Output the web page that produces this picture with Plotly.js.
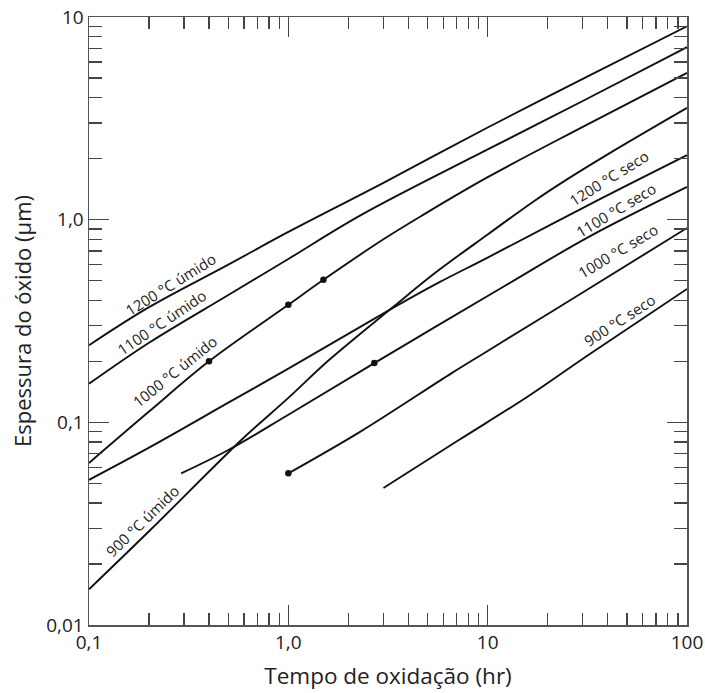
<!DOCTYPE html>
<html>
<head>
<meta charset="utf-8">
<script src="https://cdn.plot.ly/plotly-3.0.1.min.js"></script>
<style>html,body{margin:0;padding:0;background:#fff;}#chart{width:705px;height:693px;}</style>
</head>
<body>
<div id="chart"></div>
<script>
// Oxidation time (hr) and oxide thickness (µm)
const wet1200_t = [0.1, 0.2, 0.5, 1, 3, 10, 30, 100];
const wet1200_x = [0.24, 0.37, 0.60, 0.87, 1.52, 2.85, 4.95, 9.0];
const wet1100_t = [0.1, 0.2, 0.5, 1, 2.3, 10, 30, 100];
const wet1100_x = [0.155, 0.247, 0.425, 0.64, 1.05, 2.22, 3.85, 7.1];
const wet1000_t = [0.1, 0.2, 0.4, 1, 1.5, 3, 4.7, 10, 30, 100];
const wet1000_x = [0.063, 0.113, 0.2, 0.38, 0.505, 0.80, 1.05, 1.62, 2.87, 5.3];
const wet900_t = [0.1, 0.2, 0.59, 1, 1.6, 3.4, 5.5, 10, 17, 25, 40, 100];
const wet900_x = [0.015, 0.029, 0.083, 0.132, 0.203, 0.375, 0.55, 0.845, 1.23, 1.58, 2.1, 3.56];
const dry1200_t = [0.1, 0.2, 0.5, 1.0, 3.4, 5.7, 10, 32, 100];
const dry1200_x = [0.052, 0.075, 0.125, 0.184, 0.37, 0.49, 0.65, 1.18, 2.08];
const dry1100_t = [0.29, 0.5, 1, 2.7, 12.4, 32, 100];
const dry1100_x = [0.056, 0.073, 0.109, 0.196, 0.476, 0.82, 1.45];
const dry1000_t = [1, 2.3, 6.6, 10, 32, 100];
const dry1000_x = [0.056, 0.09, 0.175, 0.225, 0.455, 0.91];
const dry900_t = [3.0, 7.2, 15.7, 32, 100];
const dry900_x = [0.0474, 0.082, 0.133, 0.215, 0.455];

// Marked data points
const dot_t = [0.4, 1, 1.5, 2.7, 1];
const dot_x = [0.2, 0.38, 0.505, 0.196, 0.056];

// Curve labels
const labelText = ['1200 °C úmido', '1100 °C úmido', '1000 °C úmido', '900 °C úmido',
                   '1200 °C seco', '1100 °C seco', '1000 °C seco', '900 °C seco'];

// Axis ticks
const xTickVals = [0.1, 1, 10, 100];
const xTickText = ['0,1', '1,0', '10', '100'];
const yTickVals = [0.01, 0.1, 1, 10];
const yTickText = ['0,01', '0,1', '1,0', '10'];
const xMinorVals = [0.2,0.3,0.4,0.5,0.6,0.7,0.8,0.9,2,3,4,5,6,7,8,9,20,30,40,50,60,70,80,90];
const yMinorVals = [0.02,0.03,0.04,0.05,0.06,0.07,0.08,0.09,0.2,0.3,0.4,0.5,0.6,0.7,0.8,0.9,2,3,4,5,6,7,8,9];

// Label placement (log10 coordinates) and angle
const labelPos = [[-0.589,-0.317,-32],[-0.634,-0.505,-34],[-0.569,-0.746,-39],[-0.734,-1.486,-44],
                  [1.607,0.206,-32],[1.642,0.048,-31],[1.652,-0.154,-31],[1.662,-0.495,-33]];

const lineStyle = {color: '#111', width: 1.9, shape: 'spline', smoothing: 1.0};
function curve(t, x) {
  return {x: t, y: x, type: 'scatter', mode: 'lines', line: lineStyle, hoverinfo: 'skip', showlegend: false};
}
const traces = [
  curve(wet1200_t, wet1200_x), curve(wet1100_t, wet1100_x), curve(wet1000_t, wet1000_x), curve(wet900_t, wet900_x),
  curve(dry1200_t, dry1200_x), curve(dry1100_t, dry1100_x), curve(dry1000_t, dry1000_x), curve(dry900_t, dry900_x),
  {x: dot_t, y: dot_x, type: 'scatter', mode: 'markers', marker: {color: '#111', size: 6.5}, showlegend: false}
];

const FONT = 'Open Sans, Noto Sans, sans-serif';
const annotations = labelText.map((t, i) => ({
  text: t, x: labelPos[i][0], y: labelPos[i][1], xref: 'x', yref: 'y',
  textangle: labelPos[i][2], showarrow: false,
  font: {family: FONT, size: 15, color: '#222'}
}));

const axisCommon = {
  type: 'log', showgrid: false, zeroline: false,
  showline: true, linecolor: '#555', linewidth: 1.5, mirror: 'ticks',
  ticks: 'inside', ticklen: 20, tickwidth: 1.5, tickcolor: '#444',
  tickmode: 'array',
  tickfont: {family: FONT, size: 19, color: '#222'}
};

const layout = {
  width: 705, height: 693,
  margin: {l: 89, r: 18, t: 17, b: 68},
  paper_bgcolor: '#fff', plot_bgcolor: '#fff',
  showlegend: false,
  xaxis: Object.assign({}, axisCommon, {
    range: [-1, 2], tickvals: xTickVals, ticktext: xTickText,
    minor: {tickmode: 'array', tickvals: xMinorVals, ticks: 'inside', ticklen: 12, tickwidth: 1.3, tickcolor: '#444', showgrid: false},
    title: {text: 'Tempo de oxidação (hr)', font: {family: FONT, size: 22.5, color: '#222'}, standoff: 14}
  }),
  yaxis: Object.assign({}, axisCommon, {
    range: [-2, 1], tickvals: yTickVals, ticktext: yTickText,
    minor: {tickmode: 'array', tickvals: yMinorVals, ticks: 'inside', ticklen: 13, tickwidth: 1.3, tickcolor: '#444', showgrid: false},
    title: {text: 'Espessura do óxido (µm)', font: {family: FONT, size: 22, color: '#222'}, standoff: 8}
  }),
  annotations: annotations
};

Plotly.newPlot('chart', traces, layout, {staticPlot: true, displayModeBar: false});
</script>
</body>
</html>
